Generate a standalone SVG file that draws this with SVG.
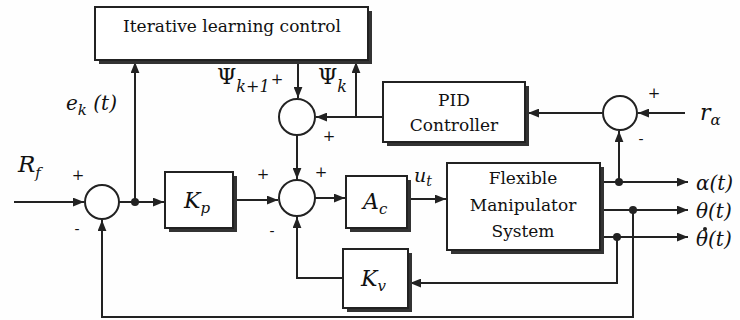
<svg xmlns="http://www.w3.org/2000/svg" width="740" height="320" viewBox="0 0 740 320">
<defs>
<marker id="ah" viewBox="0 0 10 8" refX="10" refY="4" markerWidth="11" markerHeight="9" markerUnits="userSpaceOnUse" orient="auto">
<path d="M0,0 L10,4 L0,8 Z" fill="#222"/>
</marker>
</defs>
<style>
.box{fill:#fff;stroke:#222;stroke-width:2}
.sh{fill:none;stroke:#333;stroke-width:4}
.sum{fill:#fff;stroke:#222;stroke-width:2}
.ln{fill:none;stroke:#222;stroke-width:2}
.ar{fill:none;stroke:#222;stroke-width:2;marker-end:url(#ah)}
.dot{fill:#222}
text{font-family:"DejaVu Serif","Liberation Serif",serif}
.t{fill:#111;text-anchor:middle}
.m{font-style:italic;fill:#111}
.s{font-size:15px;fill:#111;text-anchor:middle}
</style>
<rect width="740" height="320" fill="#fefefe"/>

<g id="connectors">
<path class="ar" d="M14,202 H84"/>
<path class="ln" d="M119,202 H135"/>
<path class="ar" d="M135,202 H164"/>
<path class="ar" d="M135,202 V62"/>
<path class="ar" d="M233,200 H278"/>
<path class="ar" d="M298,63 V98"/>
<path class="ar" d="M297,135 V179"/>
<path class="ar" d="M383,117 H316"/>
<path class="ar" d="M356,117 V62"/>
<path class="ar" d="M315,198 H345"/>
<path class="ar" d="M409,199 H446"/>
<path class="ar" d="M685,113 H638"/>
<path class="ar" d="M602,113 H528"/>
<path class="ar" d="M602,182 H688"/>
<path class="ar" d="M602,210 H688"/>
<path class="ar" d="M602,237 H688"/>
<path class="ar" d="M619,182 V131"/>
<path class="ar" d="M617,237 V283 H410"/>
<path class="ar" d="M343,278 H297 V217"/>
<path class="ar" d="M633,210 V317 H102 V220"/>
</g>

<g id="ilc">
<path class="sh" d="M370,11 V62 H99"/>
<rect class="box" x="95" y="7" width="273" height="53"/>
<text class="t" x="232" y="32" font-size="17">Iterative learning control</text>
</g>

<g id="pid">
<path class="sh" d="M527,86 V144 H387"/>
<rect class="box" x="383" y="82" width="142" height="60"/>
<text class="t" x="454" y="106" font-size="17">PID</text>
<text class="t" x="454" y="131" font-size="17">Controller</text>
</g>

<g id="kp">
<path class="sh" d="M235,176 V230 H169"/>
<rect class="box" x="165" y="172" width="68" height="56"/>
<text class="m" x="184" y="208" font-size="22">K<tspan font-size="15" dy="5">p</tspan></text>
</g>

<g id="ac">
<path class="sh" d="M409,180 V230 H350"/>
<rect class="box" x="346" y="176" width="61" height="52"/>
<text class="m" x="363" y="209" font-size="22">A<tspan font-size="15" dy="5">c</tspan></text>
</g>

<g id="kv">
<path class="sh" d="M410,253 V310 H347"/>
<rect class="box" x="343" y="249" width="65" height="59"/>
<text class="m" x="361" y="286" font-size="22">K<tspan font-size="15" dy="5">v</tspan></text>
</g>

<g id="fms">
<path class="sh" d="M602,167 V252 H451"/>
<rect class="box" x="447" y="163" width="153" height="87"/>
<text class="t" x="523" y="184" font-size="17">Flexible</text>
<text class="t" x="523" y="211" font-size="17">Manipulator</text>
<text class="t" x="523" y="237" font-size="17">System</text>
</g>

<g id="sum1">
<circle class="sum" cx="102" cy="202" r="17"/>
<text class="s" x="78" y="180">+</text>
<text class="s" x="77" y="234">-</text>
</g>

<g id="sum2">
<circle class="sum" cx="297" cy="117" r="18"/>
<text class="s" x="329" y="141">+</text>
</g>

<g id="sum3">
<circle class="sum" cx="297" cy="198" r="18"/>
<text class="s" x="263" y="179">+</text>
<text class="s" x="321" y="177">+</text>
<text class="s" x="272" y="236">-</text>
</g>

<g id="sum4">
<circle class="sum" cx="620" cy="113" r="17"/>
<text class="s" x="654" y="98">+</text>
<text class="s" x="641" y="144">-</text>
</g>

<g id="dots">
<circle class="dot" cx="135" cy="202" r="4"/>
<circle class="dot" cx="619" cy="182" r="4"/>
<circle class="dot" cx="633" cy="210" r="4"/>
<circle class="dot" cx="617" cy="237" r="4"/>
</g>

<g id="labels">
<text class="m" x="18" y="172" font-size="23">R<tspan font-size="15" dy="6">f</tspan></text>
<text class="m" x="66" y="110" font-size="20">e<tspan font-size="15" dy="5">k</tspan><tspan dy="-5"> (t)</tspan></text>
<text class="m" x="217" y="84" font-size="22"><tspan font-style="normal">Ψ</tspan><tspan font-size="16" dy="8">k+1</tspan></text>
<text class="s" x="277" y="84">+</text>
<text class="m" x="318" y="84" font-size="22"><tspan font-style="normal">Ψ</tspan><tspan font-size="16" dy="8">k</tspan></text>
<text class="m" x="414" y="182" font-size="19">u<tspan font-size="14" dy="4">t</tspan></text>
<text class="m" x="700" y="120" font-size="22">r<tspan font-size="15" dy="5">α</tspan></text>
<text class="m" x="696" y="190" font-size="20">α(t)</text>
<text class="m" x="696" y="218" font-size="20">θ(t)</text>
<text class="m" x="696" y="246" font-size="20">θ(t)</text>
<circle class="dot" cx="705" cy="229" r="2"/>
</g>
</svg>
